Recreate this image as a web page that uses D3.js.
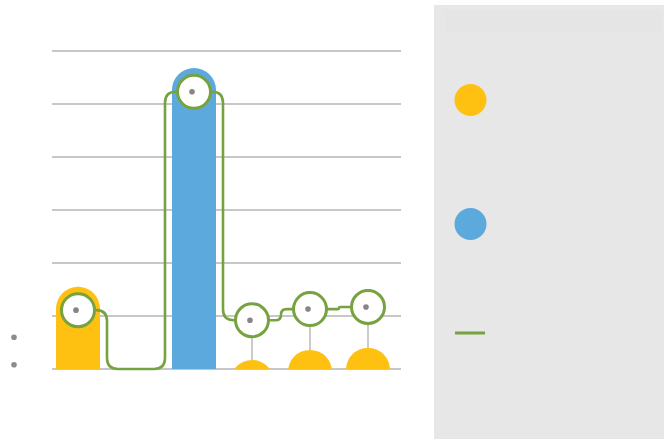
<!DOCTYPE html>
<html><head><meta charset="utf-8">
<script src="https://cdn.jsdelivr.net/npm/d3@7"></script>
<style>html,body{margin:0;padding:0;background:#fff;}svg{display:block;}</style>
</head><body>
<svg id="c" width="664" height="439"></svg>
<script>
// ---- data ----
const categories = ["A","B","C","D","E","F"];
const seriesYellow = [1.55, 0, 0, 0.17, 0.36, 0.40];
const seriesBlue   = [0, 0, 5.68, 0, 0, 0];
const seriesLine   = [1.11, 0, 5.23, 0.92, 1.13, 1.17];
const yTicks = [0,1,2,3,4,5,6];
const legendItems = [
  {type:"circle", color:"#FEC111"},
  {type:"circle", color:"#5CA9DD"},
  {type:"line",   color:"#76A240"}
];
const sideDots = [0.6, 0.08];

const svg = d3.select("#c");
const W = 664, H = 439;
const x = d3.scaleBand().domain(categories).range([49, 397]);
const y = d3.scaleLinear().domain([0, 6]).range([369, 51]);
const base = y(0);
const cx = c => x(c) + x.bandwidth()/2;
const barR = 22;

// gridlines
svg.append("g").selectAll("line").data(yTicks).join("line")
  .attr("x1", 52).attr("x2", 401)
  .attr("y1", d => y(d)).attr("y2", d => y(d))
  .attr("stroke", "#b4b4b4").attr("stroke-width", 1.3);

// side dots
svg.append("g").selectAll("circle").data(sideDots).join("circle")
  .attr("cx", 14).attr("cy", d => y(d)).attr("r", 2.8).attr("fill", "#8c8c8c");

// drop lines
svg.append("g").selectAll("line").data(categories).join("line")
  .attr("x1", d => cx(d)).attr("x2", d => cx(d))
  .attr("y1", (d,i) => y(seriesLine[i]))
  .attr("y2", (d,i) => y(Math.max(seriesYellow[i], seriesBlue[i])))
  .attr("stroke", "#a8a8a8").attr("stroke-width", 1.2);

// bars
svg.append("clipPath").attr("id","clipBase").append("rect")
  .attr("x",0).attr("y",0).attr("width",W).attr("height",base);
function capBar(xc, top){
  const x0 = xc - barR, x1 = xc + barR;
  return `M${x0},${base+barR+2} L${x0},${top+barR} A${barR},${barR} 0 0 1 ${x1},${top+barR} L${x1},${base+barR+2} Z`;
}
const gBars = svg.append("g").attr("clip-path","url(#clipBase)");
[[seriesYellow,"#FEC111"],[seriesBlue,"#5CA9DD"]].forEach(([vals,col]) => {
  gBars.append("g").selectAll("path").data(categories).join("path")
    .filter((d,i) => vals[i] > 0)
    .attr("d", d => capBar(cx(d), y(vals[categories.indexOf(d)])))
    .attr("fill", col);
});

// rounded step line
const pts = categories.map((c,i) => [cx(c), y(seriesLine[i])]);
function roundedStep(p){
  let d = `M${p[0][0]},${p[0][1]}`;
  for (let i=0;i<p.length-1;i++){
    const [xa,ya] = p[i], [xb,yb] = p[i+1];
    const m = (xa+xb)/2, dy = yb-ya;
    const r = Math.min(11, Math.abs(dy)/2);
    if (r < 0.5){ d += ` L${xb},${yb}`; continue; }
    const s = Math.sign(dy);
    d += ` L${m-r},${ya} Q${m},${ya} ${m},${ya+s*r}`;
    d += ` L${m},${yb-s*r} Q${m},${yb} ${m+r},${yb}`;
    d += ` L${xb},${yb}`;
  }
  return d;
}
svg.append("path").attr("d", roundedStep(pts))
  .attr("fill","none").attr("stroke","#76A240").attr("stroke-width",2.6);

// markers (skip zero points)
const gM = svg.append("g");
gM.selectAll("circle").data(pts.filter((p,i)=>seriesLine[i]>0)).join("circle")
  .attr("cx", d=>d[0]).attr("cy", d=>d[1]).attr("r", 16.5)
  .attr("fill","#fff").attr("stroke","#76A240").attr("stroke-width",3);
gM.append("g").selectAll("circle").data(pts.filter((p,i)=>seriesLine[i]>0)).join("circle")
  .attr("cx", d=>d[0]-2).attr("cy", d=>d[1]).attr("r", 2.8).attr("fill","#868686");

// legend panel
svg.append("rect").attr("x",434).attr("y",5).attr("width",230).attr("height",434).attr("fill","#e6e7e6");
svg.append("rect").attr("x",445).attr("y",10).attr("width",216).attr("height",23).attr("fill","#e4e5e4");
const legendY = [100, 224, 333];
legendItems.forEach((it,i) => {
  if (it.type === "circle")
    svg.append("circle").attr("cx",470.5).attr("cy",legendY[i]).attr("r",16).attr("fill",it.color);
  else
    svg.append("line").attr("x1",455).attr("x2",485).attr("y1",legendY[i]).attr("y2",legendY[i])
      .attr("stroke",it.color).attr("stroke-width",3);
});
</script>
</body></html>
